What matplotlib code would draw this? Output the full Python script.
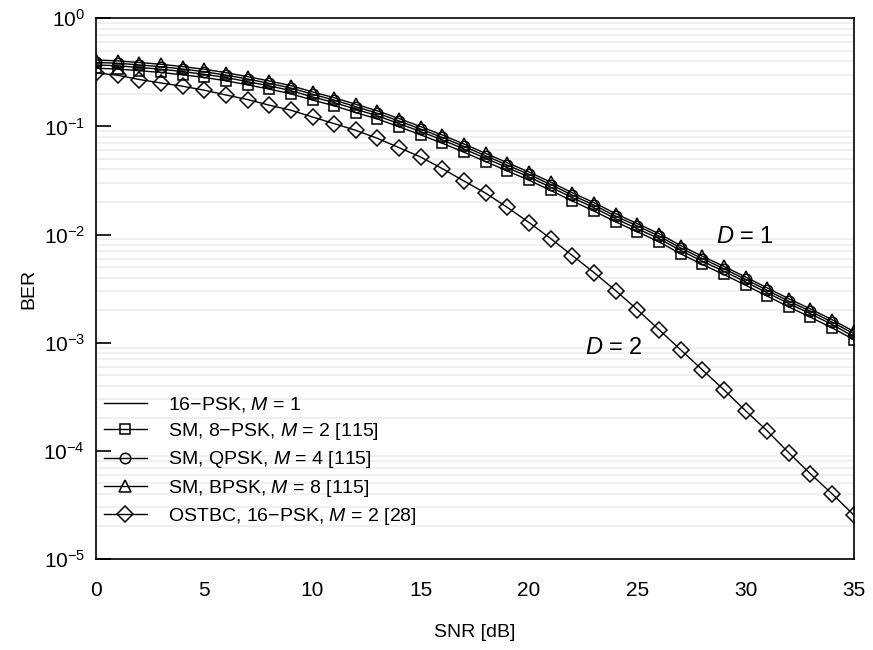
import numpy as np
import matplotlib
matplotlib.use("Agg")
import matplotlib.pyplot as plt

plt.rcParams['font.family'] = ['Liberation Sans', 'DejaVu Sans']
plt.rcParams['mathtext.fontset'] = 'custom'
plt.rcParams['mathtext.rm'] = 'Liberation Sans'
plt.rcParams['mathtext.it'] = 'Liberation Sans:italic'

# SNR [dB]
snr = np.arange(0, 36)

# BER
ber_16psk = [0.370, 0.363, 0.350, 0.338, 0.321, 0.303, 0.283, 0.259, 0.237, 0.214,
             0.187, 0.166, 0.144, 0.125, 0.106, 0.0894, 0.0748, 0.0617, 0.0506, 0.0415,
             0.0340, 0.0274, 0.0219, 0.0177, 0.0140, 0.0113, 0.00918, 0.00712, 0.00567, 0.00457,
             0.00365, 0.00289, 0.00230, 0.00185, 0.00147, 0.00114]
ber_sm_8psk = [0.345, 0.339, 0.327, 0.315, 0.300, 0.283, 0.264, 0.242, 0.221, 0.200,
               0.175, 0.155, 0.134, 0.117, 0.0991, 0.0834, 0.0698, 0.0576, 0.0472, 0.0387,
               0.0318, 0.0256, 0.0204, 0.0165, 0.0131, 0.0106, 0.00857, 0.00664, 0.00529, 0.00427,
               0.00340, 0.00270, 0.00214, 0.00172, 0.00137, 0.00107]
ber_sm_qpsk = [0.390, 0.383, 0.370, 0.356, 0.339, 0.320, 0.298, 0.274, 0.250, 0.226,
               0.198, 0.175, 0.152, 0.132, 0.112, 0.0943, 0.0789, 0.0652, 0.0534, 0.0438,
               0.0359, 0.0290, 0.0231, 0.0187, 0.0148, 0.0120, 0.00969, 0.00751, 0.00599, 0.00483,
               0.00385, 0.00305, 0.00242, 0.00195, 0.00155, 0.00121]
ber_sm_bpsk = [0.411, 0.403, 0.389, 0.375, 0.357, 0.337, 0.314, 0.288, 0.263, 0.238,
               0.208, 0.184, 0.160, 0.139, 0.118, 0.0993, 0.0831, 0.0686, 0.0562, 0.0461,
               0.0378, 0.0305, 0.0243, 0.0197, 0.0156, 0.0126, 0.0102, 0.00791, 0.00630, 0.00508,
               0.00405, 0.00321, 0.00255, 0.00205, 0.00163, 0.00127]
ber_ostbc = [0.312, 0.297, 0.271, 0.252, 0.235, 0.216, 0.195, 0.177, 0.157, 0.141,
             0.122, 0.106, 0.0918, 0.0774, 0.0635, 0.0520, 0.0406, 0.0312, 0.0241, 0.0178,
             0.0129, 0.00918, 0.00639, 0.00445, 0.00303, 0.00202, 0.00132, 8.61e-4, 5.62e-4, 3.67e-4,
             2.35e-4, 1.53e-4, 9.58e-5, 6.12e-5, 4.0e-5, 2.55e-5]

labels = ["16\u2212PSK, $M$ = 1",
          "SM, 8\u2212PSK, $M$ = 2 [115]",
          "SM, QPSK, $M$ = 4 [115]",
          "SM, BPSK, $M$ = 8 [115]",
          "OSTBC, 16\u2212PSK, $M$ = 2 [28]"]

fig = plt.figure(figsize=(8.73, 6.5), dpi=100)
ax = fig.add_axes([0.110, 0.140, 0.868, 0.832])

kw = dict(color="black", lw=1.0, mfc="none", mec="black", mew=1.1)
ax.semilogy(snr, ber_16psk, label=labels[0], **kw)
ax.semilogy(snr, ber_sm_8psk, marker="s", ms=7.5, label=labels[1], **kw)
ax.semilogy(snr, ber_sm_qpsk, marker="o", ms=7.5, label=labels[2], **kw)
ax.semilogy(snr, ber_sm_bpsk, marker="^", ms=9, label=labels[3], **kw)
ax.semilogy(snr, ber_ostbc, marker="D", ms=8, label=labels[4], **kw)

ax.set_xlim(0, 35)
ax.set_ylim(1e-5, 1)
ax.set_xticks(np.arange(0, 36, 5))
ax.grid(True, which="minor", axis="y", color="#f0f0f0", lw=1.5)
ax.grid(False, which="major")
ax.set_axisbelow(True)
ax.tick_params(axis="x", length=0, labelsize=15, pad=16)
ax.tick_params(axis="y", which="major", direction="in", length=11, width=1.2, labelsize=15, pad=8)
ax.tick_params(axis="y", which="minor", length=0)
for s in ax.spines.values():
    s.set_linewidth(1.2)

ax.set_xlabel("SNR [dB]", fontsize=14, labelpad=17)
ax.set_ylabel("BER", fontsize=14, labelpad=4)

ax.text(28.65, 0.0094, "$D$ = 1", fontsize=17, ha="left", va="center")
ax.text(22.6, 9.0e-4, "$D$ = 2", fontsize=17, ha="left", va="center")

ax.legend(loc="lower left", bbox_to_anchor=(0.0, 0.045), frameon=False, fontsize=14,
          handlelength=2.2, handletextpad=1.1, labelspacing=0.37, borderaxespad=0.0)

fig.savefig("out.png", dpi=100)
